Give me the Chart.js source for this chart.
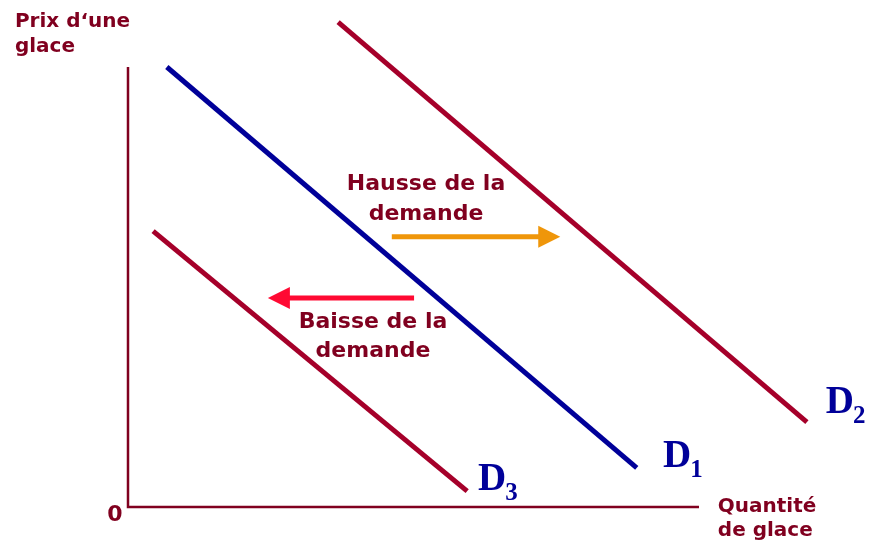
<!DOCTYPE html>
<html>
<head>
<meta charset="utf-8">
<script src="https://cdn.jsdelivr.net/npm/chart.js@4"></script>
<style>
  body { margin: 0; background: #fff; }
  canvas { display: block; }
</style>
</head>
<body>
<canvas id="demandChart" width="870" height="546"></canvas>
<script>
// quantité (x) et prix (y), en unités du graphique, origine = 0
const axisX = [0, 0, 10];
const axisY = [10, 0, 0];

const d1X = [0.68, 8.91];
const d1Y = [10.0, 0.89];
const d2X = [3.68, 11.89];
const d2Y = [11.02, 1.93];
const d3X = [0.44, 5.94];
const d3Y = [6.27, 0.36];

const hausseX = [4.62, 7.43];
const hausseY = [6.14, 6.14];
const baisseX = [5.01, 2.59];
const baisseY = [4.75, 4.75];

const curveNames = ['D', 'D', 'D'];
const curveSubs = ['1', '2', '3'];

const darkRed = '#80001f';
const curveRed = '#a5002a';
const blue = '#000099';

function pts(xs, ys) {
  return xs.map((x, i) => ({ x: x, y: ys[i] }));
}

// texts are drawn through the scales too
const texts = [
  { t: 'Prix d\u2018une', x: -1.98, y: 10.91, align: 'left', size: 20 },
  { t: 'glace', x: -1.98, y: 10.34, align: 'left', size: 20 },
  { t: '0', x: -0.23, y: -0.31, align: 'center', size: 22 },
  { t: 'Quantité', x: 10.33, y: -0.11, align: 'left', size: 20 },
  { t: 'de glace', x: 10.33, y: -0.67, align: 'left', size: 20 },
  { t: 'Hausse de la', x: 5.22, y: 7.20, align: 'center', size: 22 },
  { t: 'demande', x: 5.22, y: 6.52, align: 'center', size: 22 },
  { t: 'Baisse de la', x: 4.29, y: 4.07, align: 'center', size: 22 },
  { t: 'demande', x: 4.29, y: 3.41, align: 'center', size: 22 }
];
const curveLabels = [
  { x: 9.37, y: 0.91 },
  { x: 12.22, y: 2.14 },
  { x: 6.13, y: 0.39 }
];

const labelPlugin = {
  id: 'labels',
  afterDatasetsDraw(chart) {
    const ctx = chart.ctx;
    const sx = chart.scales.x, sy = chart.scales.y;
    ctx.save();
    ctx.textBaseline = 'alphabetic';

    // arrow heads, tip a little past the end of the shaft
    chart.data.datasets.forEach((ds, i) => {
      if (!ds.arrow) return;
      const meta = chart.getDatasetMeta(i).data;
      const a = meta[meta.length - 2], b = meta[meta.length - 1];
      const ang = Math.atan2(b.y - a.y, b.x - a.x);
      const c = Math.cos(ang), s = Math.sin(ang);
      const tx = b.x + 8 * c, ty = b.y + 8 * s;
      const len = 22, half = 11;
      ctx.fillStyle = ds.borderColor;
      ctx.beginPath();
      ctx.moveTo(tx, ty);
      ctx.lineTo(tx - len * c + half * s, ty - len * s - half * c);
      ctx.lineTo(tx - len * c - half * s, ty - len * s + half * c);
      ctx.closePath();
      ctx.fill();
    });

    ctx.fillStyle = darkRed;
    texts.forEach(l => {
      ctx.font = 'bold ' + l.size + 'px "DejaVu Sans", Verdana, sans-serif';
      ctx.textAlign = l.align;
      ctx.fillText(l.t, sx.getPixelForValue(l.x), sy.getPixelForValue(l.y));
    });

    ctx.fillStyle = blue;
    ctx.textAlign = 'left';
    curveLabels.forEach((l, i) => {
      const px = sx.getPixelForValue(l.x), py = sy.getPixelForValue(l.y);
      ctx.font = 'bold 39px "Liberation Serif", "Times New Roman", serif';
      ctx.fillText(curveNames[i], px, py);
      const w = ctx.measureText(curveNames[i]).width;
      ctx.font = 'bold 25px "Liberation Serif", "Times New Roman", serif';
      ctx.fillText(curveSubs[i], px + w - 1, py + 10);
    });
    ctx.restore();
  }
};

new Chart(document.getElementById('demandChart'), {
  type: 'scatter',
  data: {
    datasets: [
      { data: pts(axisX, axisY), borderColor: darkRed, borderWidth: 2.5, borderJoinStyle: 'miter' },
      { data: pts(d2X, d2Y), borderColor: curveRed, borderWidth: 5 },
      { data: pts(d3X, d3Y), borderColor: curveRed, borderWidth: 5 },
      { data: pts(d1X, d1Y), borderColor: blue, borderWidth: 5 },
      { data: pts(hausseX, hausseY), borderColor: '#ef960a', borderWidth: 5, arrow: true },
      { data: pts(baisseX, baisseY), borderColor: '#ff0a33', borderWidth: 5, arrow: true }
    ]
  },
  options: {
    responsive: false,
    animation: false,
    showLine: true,
    layout: { padding: 0 },
    elements: { point: { radius: 0, hoverRadius: 0 }, line: { tension: 0 } },
    plugins: { legend: { display: false }, tooltip: { enabled: false } },
    scales: {
      x: { type: 'linear', display: false, min: -2.2417, max: 12.995 },
      y: { type: 'linear', display: false, min: -0.886, max: 11.523 }
    }
  },
  plugins: [labelPlugin]
});
</script>
</body>
</html>
